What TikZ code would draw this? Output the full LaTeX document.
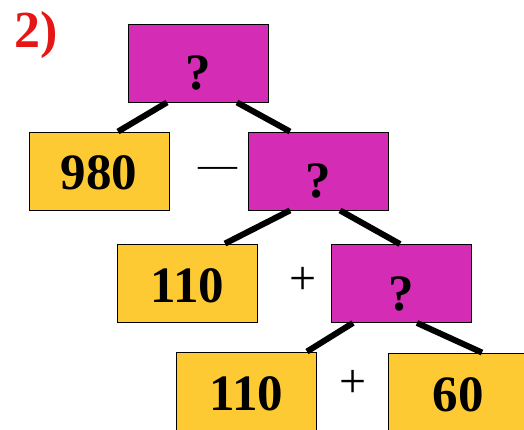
\documentclass[tikz,border=0pt]{standalone}
\usepackage{fontspec}
\setmainfont{Liberation Serif}
\definecolor{mag}{RGB}{212,44,180}
\definecolor{yel}{RGB}{254,202,52}
\definecolor{lbl}{RGB}{228,22,22}
\begin{document}
\begin{tikzpicture}[x=1pt,y=-1pt,
  box/.style={draw=black,line width=0.9pt,minimum width=140pt,minimum height=78pt,inner sep=0pt,
    text height=35pt,text depth=0pt,
    font=\fontsize{51}{60}\selectfont\bfseries},
  magbox/.style={box,fill=mag},
  yelbox/.style={box,fill=yel},
  link/.style={line width=6pt,black},
  op/.style={inner sep=0pt,font=\fontsize{48}{56}\selectfont}]
\useasboundingbox (0,0) rectangle (524,430);
\clip (0,0) rectangle (524,430);
\node[magbox] (A) at (198.5,63) {\raisebox{-9.5pt}{?}};
\node[yelbox] (B) at (99,171) {\raisebox{-1.5pt}{980}};
\node[magbox] (C) at (318.5,171) {\raisebox{-9.5pt}{?}};
\node[yelbox] (D) at (187.5,283) {\raisebox{-1.5pt}{110}};
\node[magbox] (E) at (401.5,283.5) {\raisebox{-9.5pt}{?}};
\node[yelbox] (F) at (246.5,391) {\raisebox{-1.5pt}{110}};
\node[yelbox,minimum width=144pt] (G) at (460,392) {\hspace*{-4pt}\raisebox{-1.5pt}{60}};
\draw[link] ([xshift=-31.5pt]A.south) -- ([xshift=19pt]B.north);
\draw[link] ([xshift=38.5pt]A.south) -- ([xshift=-28.5pt]C.north);
\draw[link] ([xshift=-28.5pt]C.south) -- ([xshift=37.5pt]D.north);
\draw[link] ([xshift=21.5pt]C.south) -- ([xshift=-1.5pt]E.north);
\draw[link] ([xshift=-48.5pt]E.south) -- ([xshift=60.5pt]F.north);
\draw[link] ([xshift=15.5pt]E.south) -- ([xshift=22pt]G.north);
\node[inner sep=0pt,font=\fontsize{39}{45}\selectfont] (m1) at (217.5,172) {\raisebox{-0.25em}{—}};
\node[op] (p1) at (303.5,281) {+};
\node[op] (p2) at (353.5,384) {+};
\node[inner sep=0pt,text=lbl,font=\fontsize{52}{58}\selectfont\bfseries] (lab) at (36,35) {2)};
\end{tikzpicture}
\end{document}
